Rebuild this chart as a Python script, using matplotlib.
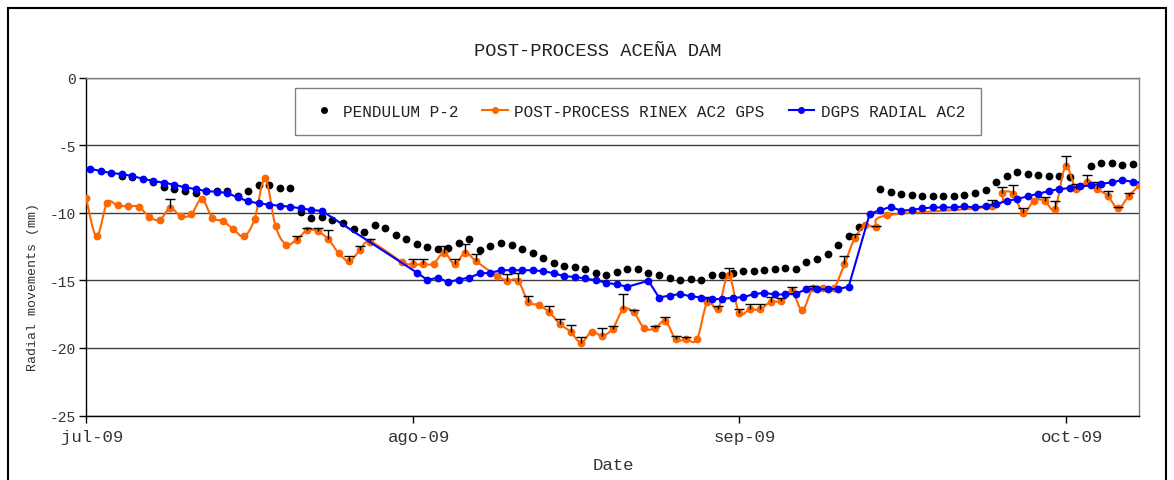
import matplotlib
matplotlib.use("Agg")
import matplotlib.pyplot as plt
from matplotlib.path import Path
from matplotlib.patches import PathPatch, Rectangle
from matplotlib.lines import Line2D
import matplotlib.transforms as mtransforms
import numpy as np

plt.rcParams['font.family'] = ['Liberation Mono', 'DejaVu Sans Mono']
plt.rcParams['axes.unicode_minus'] = False

# ---------------- data (x = days since 1 Jul 2009) ----------------
tick_days = [0, 31, 62, 93]
tick_labels = ['jul-09', 'ago-09', 'sep-09', 'oct-09']

pend_days = [3.4, 4.4, 6.4, 7.4, 8.4, 9.4, 10.4, 11.4, 12.4, 13.4, 14.4, 15.4, 16.4, 17.4,
             18.4, 19.4, 20.4, 21.4, 22.4, 23.4, 24.4, 25.4, 26.4, 27.4, 28.4, 29.4, 30.4,
             31.4, 32.4, 33.4, 34.4, 35.4, 36.4, 37.4, 38.4, 39.4, 40.4, 41.4, 42.4, 43.4,
             44.4, 45.4, 46.4, 47.4, 48.4, 49.4, 50.4, 51.4, 52.4, 53.4, 54.4, 55.4, 56.4,
             57.4, 58.4, 59.4, 60.4, 61.4, 62.4, 63.4, 64.4, 65.4, 66.4, 67.4, 68.4, 69.4,
             70.4, 71.4, 72.4, 73.4, 75.4, 76.4, 77.4, 78.4, 79.4, 80.4, 81.4, 82.4, 83.4,
             84.4, 85.4, 86.4, 87.4, 88.4, 89.4, 90.4, 91.4, 92.4, 93.4, 95.4, 96.4, 97.4,
             98.4, 99.4]
pend_vals = [-7.31, -7.36, -7.75, -8.12, -8.27, -8.42, -8.51, -8.39, -8.39, -8.42, -8.73, -8.37,
             -7.92, -7.97, -8.14, -8.19, -9.97, -10.38, -10.29, -10.53, -10.78, -11.18, -11.41,
             -10.92, -11.11, -11.62, -11.96, -12.33, -12.55, -12.70, -12.60, -12.20, -11.93,
             -12.72, -12.48, -12.20, -12.38, -12.70, -12.99, -13.34, -13.68, -13.93, -13.98,
             -14.13, -14.42, -14.62, -14.35, -14.18, -14.17, -14.49, -14.59, -14.84, -14.99,
             -14.91, -14.94, -14.57, -14.57, -14.44, -14.27, -14.27, -14.22, -14.17, -14.10,
             -14.17, -13.63, -13.39, -13.02, -12.40, -11.74, -11.02, -8.24, -8.49, -8.64,
             -8.66, -8.79, -8.76, -8.79, -8.76, -8.71, -8.54, -8.31, -7.70, -7.26, -6.96,
             -7.09, -7.21, -7.28, -7.28, -7.33, -6.50, -6.30, -6.30, -6.47, -6.42]

gps_days = [0, 1, 2, 3, 4, 5, 6, 7, 8, 9, 10, 11, 12, 13, 14, 15, 16, 17, 18, 19, 20, 21, 22,
            23, 24, 25, 26, 27, 30, 31, 32, 33, 34, 35, 36, 37, 39, 40, 41, 42, 43, 44, 45,
            46, 47, 48, 49, 50, 51, 52, 53, 54, 55, 56, 57, 58, 59, 60, 61, 62, 63, 64, 65,
            66, 67, 68, 69, 70, 71, 72, 73, 74, 75, 76, 86, 87, 88, 89, 90, 91, 92, 93, 94,
            95, 96, 97, 98, 99, 100]
gps_vals = [-8.88, -11.74, -9.27, -9.45, -9.52, -9.55, -10.28, -10.53, -9.64, -10.26, -10.11,
            -8.98, -10.38, -10.60, -11.22, -11.74, -10.48, -7.46, -11.00, -12.35, -11.98,
            -11.29, -11.37, -11.96, -12.99, -13.58, -12.77, -12.15, -13.63, -13.81, -13.81,
            -13.76, -12.94, -13.81, -12.94, -13.56, -14.66, -15.01, -15.01, -16.58, -16.83,
            -17.37, -18.23, -18.80, -19.61, -18.80, -19.09, -18.58, -17.15, -17.37, -18.55,
            -18.55, -18.01, -19.37, -19.37, -19.37, -16.58, -17.13, -14.57, -17.39, -17.15,
            -17.15, -16.58, -16.53, -15.77, -17.20, -15.60, -15.60, -15.60, -13.81, -11.85,
            -10.93, -11.05, -10.19, -9.52, -8.53, -8.58, -9.99, -9.10, -9.10, -9.69, -6.57,
            -8.24, -7.72, -8.24, -8.75, -9.67, -8.75, -7.97]
gps_err = [0, 0, 0, 0, 0, 0, 0, 0, 0.69, 0, 0, 0, 0, 0, 0, 0, 0, 0, 0, 0, 0.25, 0.17, 0.27,
           0.69, 0, 0.35, 0.33, 0.18, 0, 0.37, 0.37, 0, 0.47, 0.37, 0.66, 0.54, 0, 0.49, 0.59,
           0.42, 0, 0.47, 0.34, 0.49, 0.44, 0, 0.59, 0.20, 1.12, 0.15, 0, 0.17, 0.30, 0.25,
           0.20, 0, 0.32, 0.25, 0.52, 0.27, 0.37, 0.37, 0.32, 0.20, 0.30, 0, 0.20, 0, 0,
           0.60, 0.27, 0, 0.10, 0, 0.49, 0.42, 0.66, 0.37, 0, 0.27, 0.54, 0.81, 0.34, 0.49,
           0.49, 0.34, 0.10, 0.25, 0]

dgps_days = [-0.6, 0.4, 1.4, 2.4, 3.4, 4.4, 5.4, 6.4, 7.4, 8.4, 9.4, 10.4, 11.4, 12.4, 13.4,
             14.4, 15.4, 16.4, 17.4, 18.4, 19.4, 20.4, 21.4, 22.4,
             31.4, 32.4, 33.4, 34.4, 35.4, 36.4, 37.4, 38.4, 39.4, 40.4, 41.4, 42.4, 43.4,
             44.4, 45.4, 46.4, 47.4, 48.4, 49.4, 50.4, 51.4,
             53.4, 54.4, 55.4, 56.4, 57.4, 58.4, 59.4, 60.4, 61.4, 62.4, 63.4, 64.4, 65.4,
             66.4, 67.4, 68.4, 69.4, 70.4, 71.4, 72.4,
             74.4, 75.4, 76.4, 77.4, 78.4, 79.4, 80.4, 81.4, 82.4, 83.4, 84.4, 85.4, 86.4,
             87.4, 88.4, 89.4, 90.4, 91.4, 92.4, 93.4, 94.4, 95.4, 96.4, 97.4, 98.4, 99.4,
             100.4]
dgps_vals = [-6.60, -6.74, -6.91, -7.06, -7.13, -7.28, -7.48, -7.65, -7.77, -7.92, -8.12, -8.24,
             -8.39, -8.44, -8.53, -8.86, -9.15, -9.30, -9.40, -9.47, -9.55, -9.67, -9.79, -9.86,
             -14.42, -14.96, -14.81, -15.13, -14.94, -14.79, -14.49, -14.44, -14.25, -14.25,
             -14.25, -14.25, -14.32, -14.47, -14.69, -14.74, -14.86, -14.99, -15.18, -15.30,
             -15.47,
             -15.03, -16.27, -16.12, -16.02, -16.17, -16.27, -16.41, -16.36, -16.29, -16.24,
             -16.02, -15.92, -16.04, -16.04, -15.99, -15.65, -15.65, -15.67, -15.62, -15.48,
             -10.09, -9.79, -9.57, -9.84, -9.79, -9.67, -9.60, -9.60, -9.60, -9.52, -9.60,
             -9.52, -9.35, -9.13, -8.98, -8.78, -8.59, -8.39, -8.24, -8.17, -8.05, -7.97,
             -7.85, -7.75, -7.57, -7.72, -7.77]

series_names = ['PENDULUM P-2', 'POST-PROCESS RINEX AC2 GPS', 'DGPS RADIAL AC2']
title_text = 'POST-PROCESS ACEÑA DAM'
xlabel_text = 'Date'
ylabel_text = 'Radial movements (mm)'

ORANGE = '#FF6600'
BLUE = '#0000FF'


def smooth_path(x, y):
    """Excel-style smoothed line (Catmull-Rom as cubic Bezier segments)."""
    pts = np.column_stack([x, y]).astype(float)
    n = len(pts)
    verts = [pts[0]]
    codes = [Path.MOVETO]
    for i in range(n - 1):
        p0 = pts[i - 1] if i > 0 else pts[i]
        p1 = pts[i]
        p2 = pts[i + 1]
        p3 = pts[i + 2] if i + 2 < n else pts[i + 1]
        verts += [p1 + (p2 - p0) / 6.0, p2 - (p3 - p1) / 6.0, p2]
        codes += [Path.CURVE4] * 3
    return Path(verts, codes)


W, H = 1174, 481
fig = plt.figure(figsize=(W / 100, H / 100), dpi=100)
fig.patch.set_facecolor('white')
fig.patches.append(Rectangle((7.5 / W, 1 - 490 / H), (1166 - 7.5) / W, (490 - 9) / H,
                             transform=fig.transFigure, fill=False, edgecolor='black',
                             linewidth=1.5))

ax = fig.add_axes([86 / W, 1 - 416.5 / H, (1139.3 - 86) / W, (416.5 - 78.7) / H])

ax.set_xlim(0, 100)
ax.set_ylim(-25, 0)

# pendulum
ax.plot(pend_days, pend_vals, 'o', color='black', markersize=4.6, zorder=3)

# post-process GPS (smoothed line + markers + upward error bars)
ax.add_patch(PathPatch(smooth_path(gps_days, gps_vals), facecolor='none', edgecolor=ORANGE,
                       linewidth=1.5, zorder=4))
ax.plot(gps_days, gps_vals, 'o', color=ORANGE, markersize=4.6, zorder=4)
eb_x = [d for d, e in zip(gps_days, gps_err) if e > 0]
eb_y = [v for v, e in zip(gps_vals, gps_err) if e > 0]
eb_e = [e for e in gps_err if e > 0]
eb = ax.errorbar(eb_x, eb_y, yerr=[np.zeros(len(eb_e)), eb_e], fmt='none', ecolor='black',
                 elinewidth=1, capsize=3.6, capthick=1, zorder=5)
# keep only the upper caps
eb[1][0].set_visible(False)

# DGPS
ax.plot(dgps_days, dgps_vals, '-o', color=BLUE, markersize=4.6, linewidth=1.5, zorder=6)

# axes styling
ax.set_yticks(range(-25, 1, 5))
ax.set_xticks(tick_days)
ax.set_xticklabels(tick_labels)
ax.yaxis.grid(True, color='#404040', linewidth=1)
ax.set_axisbelow(True)
for side in ['top', 'right']:
    ax.spines[side].set_color('#808080')
    ax.spines[side].set_linewidth(1)
for side in ['left', 'bottom']:
    ax.spines[side].set_color('black')
    ax.spines[side].set_linewidth(1)
ax.tick_params(axis='y', direction='out', length=5, width=1, pad=2, labelsize=10.5,
               colors='black', labelcolor='#333333')
ax.tick_params(axis='x', direction='out', length=5, width=1, pad=5, labelsize=12.5,
               colors='black', labelcolor='#333333')
shift = mtransforms.ScaledTranslation(6 / 100, 0, fig.dpi_scale_trans)
for lbl in ax.get_xticklabels():
    lbl.set_transform(lbl.get_transform() + shift)

fig.text(598 / W, 1 - 52 / H, title_text, ha='center', va='center', fontsize=13.5,
         color='#222222')
fig.text(613 / W, 1 - 466 / H, xlabel_text, ha='center', va='center', fontsize=12.5,
         color='#333333')
fig.text(33 / W, 1 - 287 / H, ylabel_text, ha='center', va='center', rotation=90,
         fontsize=9.5, color='#333333')

handles = [
    Line2D([], [], linestyle='none', marker='o', color='black', markersize=4),
    Line2D([], [], linestyle='-', marker='o', color=ORANGE, markersize=4, linewidth=1.5),
    Line2D([], [], linestyle='-', marker='o', color=BLUE, markersize=4, linewidth=1.5),
]
leg = ax.legend(handles, series_names, loc='center',
                bbox_to_anchor=((638 - 86) / 1053.3, 1 - (112.5 - 78.7) / 337.8),
                ncol=3, fontsize=11.5, frameon=True, fancybox=False, framealpha=1,
                edgecolor='#808080', handlelength=1.6, handletextpad=0.4,
                columnspacing=1.5, borderpad=1.0)
leg.get_frame().set_linewidth(1)
for t in leg.get_texts():
    t.set_color('#222222')

fig.savefig('out.png', dpi=100)
